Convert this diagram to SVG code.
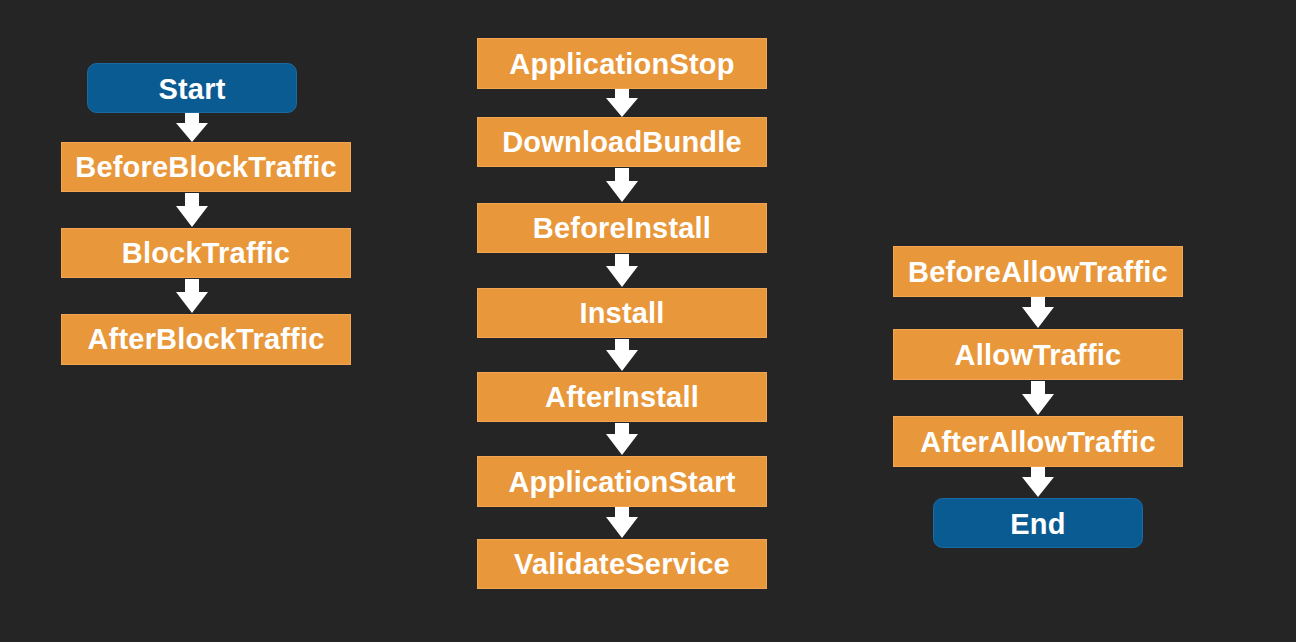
<svg xmlns="http://www.w3.org/2000/svg" width="1296" height="642" viewBox="0 0 1296 642">
<style>
.bg{fill:#252525}
.box{fill:#E8973B;stroke:#F0A650;stroke-width:1}
.term{fill:#0B5B93;stroke:#1A6AA3;stroke-width:1}
.lbl{font-family:"Liberation Sans",Arial,sans-serif;font-weight:bold;font-size:29px;letter-spacing:0.2px;fill:#FFFFFF;text-anchor:middle}
.arr{fill:#FFFFFF}
</style>
<rect class="bg" x="0" y="0" width="1296" height="642"/>
<g id="connectors">
<path class="arr" d="M185,113 H199 V123 H208 L192,142 L176,123 H185 Z"/>
<path class="arr" d="M185,193 H199 V206 H208 L192,227 L176,206 H185 Z"/>
<path class="arr" d="M185,279 H199 V292 H208 L192,313 L176,292 H185 Z"/>
<path class="arr" d="M615,89 H629 V98 H638 L622,117 L606,98 H615 Z"/>
<path class="arr" d="M615,168 H629 V181 H638 L622,202 L606,181 H615 Z"/>
<path class="arr" d="M615,254 H629 V266 H638 L622,287 L606,266 H615 Z"/>
<path class="arr" d="M615,339 H629 V350 H638 L622,371 L606,350 H615 Z"/>
<path class="arr" d="M615,423 H629 V434 H638 L622,455 L606,434 H615 Z"/>
<path class="arr" d="M615,507 H629 V517 H638 L622,538 L606,517 H615 Z"/>
<path class="arr" d="M1031,297 H1045 V307 H1054 L1038,328 L1022,307 H1031 Z"/>
<path class="arr" d="M1031,381 H1045 V394 H1054 L1038,415 L1022,394 H1031 Z"/>
<path class="arr" d="M1031,467 H1045 V477 H1054 L1038,497 L1022,477 H1031 Z"/>
</g>
<g id="start"><rect class="term" x="87.5" y="63.5" width="209" height="49" rx="9"/><text class="lbl" x="192" y="99">Start</text></g>
<g id="beforeBlockTraffic"><rect class="box" x="61.5" y="142.5" width="289" height="49"/><text class="lbl" x="206" y="177">BeforeBlockTraffic</text></g>
<g id="blockTraffic"><rect class="box" x="61.5" y="228.5" width="289" height="49"/><text class="lbl" x="206" y="263">BlockTraffic</text></g>
<g id="afterBlockTraffic"><rect class="box" x="61.5" y="314.5" width="289" height="50"/><text class="lbl" x="206" y="349">AfterBlockTraffic</text></g>
<g id="applicationStop"><rect class="box" x="477.5" y="38.5" width="289" height="50"/><text class="lbl" x="622" y="74">ApplicationStop</text></g>
<g id="downloadBundle"><rect class="box" x="477.5" y="117.5" width="289" height="49"/><text class="lbl" x="622" y="152">DownloadBundle</text></g>
<g id="beforeInstall"><rect class="box" x="477.5" y="203.5" width="289" height="49"/><text class="lbl" x="622" y="238">BeforeInstall</text></g>
<g id="install"><rect class="box" x="477.5" y="288.5" width="289" height="49"/><text class="lbl" x="622" y="323">Install</text></g>
<g id="afterInstall"><rect class="box" x="477.5" y="372.5" width="289" height="49"/><text class="lbl" x="622" y="407">AfterInstall</text></g>
<g id="applicationStart"><rect class="box" x="477.5" y="456.5" width="289" height="50"/><text class="lbl" x="622" y="492">ApplicationStart</text></g>
<g id="validateService"><rect class="box" x="477.5" y="539.5" width="289" height="49"/><text class="lbl" x="622" y="574">ValidateService</text></g>
<g id="beforeAllowTraffic"><rect class="box" x="893.5" y="246.5" width="289" height="50"/><text class="lbl" x="1038" y="282">BeforeAllowTraffic</text></g>
<g id="allowTraffic"><rect class="box" x="893.5" y="329.5" width="289" height="50"/><text class="lbl" x="1038" y="365">AllowTraffic</text></g>
<g id="afterAllowTraffic"><rect class="box" x="893.5" y="416.5" width="289" height="50"/><text class="lbl" x="1038" y="452">AfterAllowTraffic</text></g>
<g id="end"><rect class="term" x="933.5" y="498.5" width="209" height="49" rx="9"/><text class="lbl" x="1038" y="534">End</text></g>
</svg>
